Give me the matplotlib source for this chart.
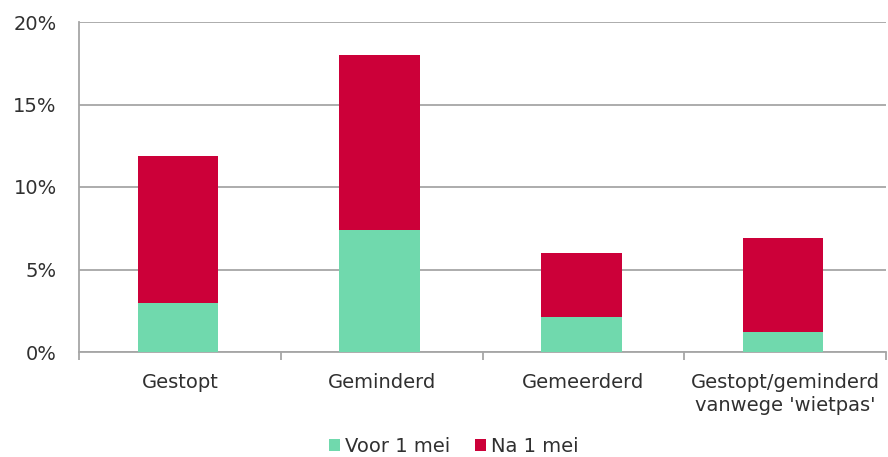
import numpy as np
import matplotlib.pyplot as plt

categories = ['Gestopt', 'Geminderd', 'Gemeerderd', "Gestopt/geminderd\nvanwege 'wietpas'"]
voor_1_mei = [3.0, 7.4, 2.1, 1.2]
na_1_mei = [8.9, 10.6, 3.9, 5.7]
yticks = [0, 5, 10, 15, 20]

green = '#70d9ad'
red = '#cc0039'
grid_col = '#a6a6a6'

plt.rcParams['font.family'] = ['DejaVu Sans']
plt.rcParams['font.size'] = 14

fig = plt.figure(figsize=(8.88, 4.57), dpi=100)
ax = fig.add_axes([79 / 888, 1 - 352 / 457, (886 - 79) / 888, (352 - 22) / 457])

x = np.arange(len(categories))
ax.bar(x - 0.01, voor_1_mei, width=0.4, color=green, label='Voor 1 mei', zorder=3)
ax.bar(x - 0.01, na_1_mei, width=0.4, bottom=voor_1_mei, color=red, label='Na 1 mei', zorder=3)

ax.set_xlim(-0.5, len(categories) - 0.5)
ax.set_ylim(0, 20)
ax.set_yticks(yticks)
ax.set_yticklabels([f'{t}%' for t in yticks], color='#303030')
ax.yaxis.grid(True, color=grid_col, linewidth=1.3, zorder=0)

# category labels at centres, tick marks at the boundaries
ax.set_xticks(x)
ax.set_xticklabels(categories, color='#303030', linespacing=1.3)
ax.set_xticks(np.arange(-0.5, len(categories)), minor=True)
ax.tick_params(axis='x', which='major', length=0, pad=15)
ax.tick_params(axis='x', which='minor', length=6, color=grid_col, width=1.3)
ax.tick_params(axis='y', length=0, pad=16)

for s in ['top', 'right']:
    ax.spines[s].set_visible(False)
for s in ['left', 'bottom']:
    ax.spines[s].set_color(grid_col)
    ax.spines[s].set_linewidth(1.3)

ax.legend(loc='center', bbox_to_anchor=(0.511, 0.024), bbox_transform=fig.transFigure,
          ncol=2, frameon=False, handlelength=0.55, handleheight=0.55, handletextpad=0.25,
          columnspacing=1.3, labelcolor='#303030')

fig.savefig('out.png', dpi=100)
